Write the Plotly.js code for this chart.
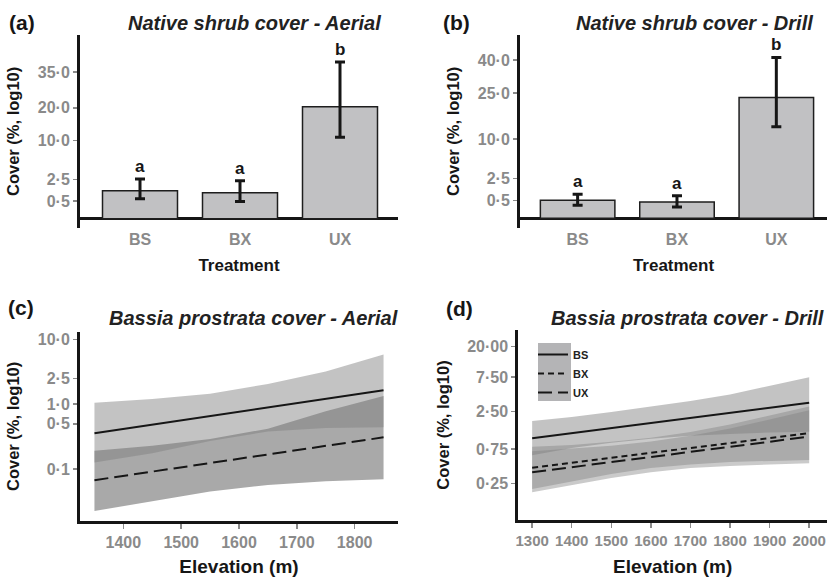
<!DOCTYPE html>
<html>
<head>
<meta charset="utf-8">
<script src="https://cdn.plot.ly/plotly-3.0.1.min.js"></script>
<style>
html,body{margin:0;padding:0;background:#fff;}
#chart{width:827px;height:577px;}
</style>
</head>
<body>
<div id="chart"></div>
<script>
// ---------------- DATA ----------------
const treatments = ['BS', 'BX', 'UX'];

// Panel (a): Native shrub cover - Aerial
const aerialMean  = [1.27, 1.10, 20.4];
const aerialUpper = [2.56, 2.35, 39.9];
const aerialLower = [0.65, 0.49, 10.8];
const aerialLetters = ['a', 'a', 'b'];
const aerialTickVals = [0.5, 2.5, 10, 20, 35];
const aerialTickText = ['0·5', '2·5', '10·0', '20·0', '35·0'];

// Panel (b): Native shrub cover - Drill
const drillMean  = [0.52, 0.42, 23.3];
const drillUpper = [0.92, 0.81, 41.3];
const drillLower = [0.27, 0.20, 13.4];
const drillLetters = ['a', 'a', 'b'];
const drillTickVals = [0.5, 2.5, 10, 25, 40];
const drillTickText = ['0·5', '2·5', '10·0', '25·0', '40·0'];

// Panel (c): Bassia prostrata cover - Aerial
const elevAerial = [1350, 1450, 1550, 1650, 1750, 1850];
const aerialBSFit   = [0.357, 0.483, 0.653, 0.883, 1.19, 1.64];
const aerialBSHigh  = [1.05, 1.20, 1.45, 2.05, 3.20, 5.85];
const aerialBSLow   = [0.126, 0.175, 0.27, 0.38, 0.43, 0.44];
const aerialUXFit   = [0.0675, 0.0913, 0.123, 0.167, 0.226, 0.309];
const aerialUXHigh  = [0.192, 0.23, 0.29, 0.42, 0.78, 1.34];
const aerialUXLow   = [0.0226, 0.032, 0.045, 0.057, 0.065, 0.070];
const cTickVals = [0.1, 0.5, 1, 2.5, 10];
const cTickText = ['0·1', '0·5', '1·0', '2·5', '10·0'];
const cElevTicks = [1400, 1500, 1600, 1700, 1800];

// Panel (d): Bassia prostrata cover - Drill
const elevDrill = [1300, 1400, 1500, 1600, 1700, 1800, 1900, 2000];
const drillBSFit  = [1.06, 1.25, 1.46, 1.72, 2.02, 2.38, 2.80, 3.31];
const drillBSHigh = [1.85, 2.10, 2.45, 2.90, 3.50, 4.30, 5.60, 7.45];
const drillBSLow  = [0.62, 0.78, 0.92, 1.05, 1.15, 1.22, 1.28, 1.31];
const drillBXFit  = [0.416, 0.487, 0.571, 0.669, 0.784, 0.918, 1.07, 1.25];
const drillBXHigh = [0.81, 0.86, 0.95, 1.08, 1.30, 1.65, 2.20, 2.92];
const drillBXLow  = [0.21, 0.27, 0.34, 0.41, 0.46, 0.50, 0.52, 0.53];
const drillUXFit  = [0.359, 0.422, 0.495, 0.582, 0.683, 0.802, 0.942, 1.12];
const drillUXHigh = [0.70, 0.76, 0.84, 0.96, 1.15, 1.45, 1.95, 2.60];
const drillUXLow  = [0.19, 0.24, 0.30, 0.36, 0.41, 0.44, 0.46, 0.48];
const dTickVals = [0.25, 0.75, 2.5, 7.5, 20];
const dTickText = ['0·25', '0·75', '2·50', '7·50', '20·00'];
const dElevTicks = [1300, 1400, 1500, 1600, 1700, 1800, 1900, 2000];

// ---------------- HELPERS ----------------
const W = 827, H = 577;
const px = v => v / W;
const py = v => 1 - v / H;
const FONT = 'Arial, "Liberation Sans", sans-serif';
const TICKGRAY = '#8a8a8a';
const INK = '#161616';
const bold = a => a.map(t => '<b>' + t + '</b>');

function ribbon(x, hi, lo, xa, ya, fill) {
  return {
    x: x.concat(x.slice().reverse()),
    y: hi.concat(lo.slice().reverse()),
    xaxis: xa, yaxis: ya, type: 'scatter', mode: 'lines',
    line: {width: 0}, fill: 'toself', fillcolor: fill,
    hoverinfo: 'skip', showlegend: false
  };
}
function fitLine(x, y, xa, ya, dash, name, legend) {
  return {
    x: x, y: y, xaxis: xa, yaxis: ya, type: 'scatter', mode: 'lines',
    line: {color: INK, width: 2, dash: dash}, name: '<b>' + name + '</b>', showlegend: legend
  };
}
function barTrace(mean, up, lo, xa, ya) {
  const s = mean.map(Math.sqrt);
  return {
    type: 'bar', x: treatments, y: s, xaxis: xa, yaxis: ya, width: 0.75,
    marker: {color: '#c1c1c3', line: {color: '#1e1e1e', width: 1.5}},
    error_y: {type: 'data', symmetric: false,
      array: up.map((u, i) => Math.sqrt(u) - s[i]),
      arrayminus: lo.map((l, i) => s[i] - Math.sqrt(l)),
      color: INK, thickness: 3, width: 5},
    showlegend: false, hoverinfo: 'skip'
  };
}

const traces = [
  barTrace(aerialMean, aerialUpper, aerialLower, 'x', 'y'),
  barTrace(drillMean, drillUpper, drillLower, 'x2', 'y2'),
  ribbon(elevAerial, aerialUXHigh, aerialUXLow, 'x3', 'y3', 'rgba(128,128,128,0.68)'),
  ribbon(elevAerial, aerialBSHigh, aerialBSLow, 'x3', 'y3', 'rgba(128,128,128,0.47)'),
  fitLine(elevAerial, aerialBSFit, 'x3', 'y3', 'solid', 'BS', false),
  fitLine(elevAerial, aerialUXFit, 'x3', 'y3', '14px,6px', 'UX', false),
  ribbon(elevDrill, drillBXHigh, drillBXLow, 'x4', 'y4', 'rgba(128,128,128,0.42)'),
  ribbon(elevDrill, drillUXHigh, drillUXLow, 'x4', 'y4', 'rgba(128,128,128,0.42)'),
  ribbon(elevDrill, drillBSHigh, drillBSLow, 'x4', 'y4', 'rgba(128,128,128,0.47)'),
  fitLine(elevDrill, drillBSFit, 'x4', 'y4', 'solid', 'BS', true),
  fitLine(elevDrill, drillBXFit, 'x4', 'y4', '6px,4px', 'BX', true),
  fitLine(elevDrill, drillUXFit, 'x4', 'y4', '14px,6px', 'UX', true)
];

const tickFont = {family: FONT, size: 16, color: TICKGRAY};
const yTitleFont = {family: FONT, size: 16.5, color: INK};

function yAxisCommon(extra) {
  return Object.assign({
    showline: true, linecolor: INK, linewidth: 3, showgrid: false,
    zeroline: false, ticks: 'outside', ticklen: 4, tickwidth: 1.5,
    tickcolor: TICKGRAY, tickfont: tickFont, automargin: false,
    title: {text: '<b>Cover (%, log10)</b>', font: yTitleFont, standoff: 14}
  }, extra);
}
function xTitle(text, size, standoff) {
  const t = {text: '<b>' + text + '</b>', font: {family: FONT, size: size, color: INK}};
  if (standoff !== undefined) t.standoff = standoff;
  return t;
}

const layout = {
  width: W, height: H,
  margin: {l: 0, r: 0, t: 0, b: 0},
  paper_bgcolor: '#fff', plot_bgcolor: 'rgba(0,0,0,0)',
  showlegend: true,
  legend: {
    x: px(533), y: py(340), xanchor: 'left', yanchor: 'top',
    bgcolor: 'rgba(0,0,0,0)', borderwidth: 0, tracegroupgap: 0,
    itemwidth: 30,
    font: {family: FONT, size: 11, color: '#222'}
  },
  // Panel (a)
  xaxis: {domain: [px(80), px(398)], anchor: 'y', type: 'category',
    range: [-0.6, 2.58], showline: false, showgrid: false, ticks: '',
    tickvals: treatments, ticktext: bold(treatments),
    tickfont: tickFont, automargin: false, title: xTitle('Treatment', 17, 12)},
  yaxis: yAxisCommon({domain: [py(227.7), py(35)], anchor: 'x',
    range: [-0.36, 7.41], tickvals: aerialTickVals.map(Math.sqrt), ticktext: bold(aerialTickText),
    zeroline: true, zerolinecolor: INK, zerolinewidth: 3}),
  // Panel (b)
  xaxis2: {domain: [px(520), 1], anchor: 'y2', type: 'category',
    range: [-0.58, 2.51], showline: false, showgrid: false, ticks: '',
    tickvals: treatments, ticktext: bold(treatments),
    tickfont: tickFont, automargin: false, title: xTitle('Treatment', 17, 12)},
  yaxis2: yAxisCommon({domain: [py(227.7), py(35)], anchor: 'x2',
    range: [-0.375, 7.32], tickvals: drillTickVals.map(Math.sqrt), ticktext: bold(drillTickText),
    zeroline: true, zerolinecolor: INK, zerolinewidth: 3}),
  // Panel (c)
  xaxis3: {domain: [px(80), px(398)], anchor: 'y3', range: [1325, 1875],
    tickvals: cElevTicks, ticktext: bold(cElevTicks),
    showline: true, linecolor: INK, linewidth: 3,
    showgrid: false, zeroline: false, ticks: 'outside', ticklen: 5, tickwidth: 1.5,
    tickcolor: TICKGRAY, tickfont: tickFont, automargin: false,
    title: xTitle('Elevation (m)', 19)},
  yaxis3: yAxisCommon({domain: [py(521), py(331.7)], anchor: 'x3', type: 'log',
    range: [-1.80, 1.118], tickvals: cTickVals, ticktext: bold(cTickText)}),
  // Panel (d)
  xaxis4: {domain: [px(518.3), 1], anchor: 'y4', range: [1265, 2045],
    tickvals: dElevTicks, ticktext: bold(dElevTicks), ticklabeloverflow: 'allow',
    showline: true, linecolor: INK, linewidth: 3,
    showgrid: false, zeroline: false, ticks: 'outside', ticklen: 5, tickwidth: 1.5,
    tickcolor: TICKGRAY, tickfont: {family: FONT, size: 15, color: TICKGRAY}, automargin: false,
    title: xTitle('Elevation (m)', 19)},
  yaxis4: yAxisCommon({domain: [py(520), py(330)], anchor: 'x4', type: 'log',
    range: [-1.107, 1.528], tickvals: dTickVals, ticktext: bold(dTickText)}),
  shapes: [
    {type: 'rect', xref: 'paper', yref: 'paper', x0: px(538), x1: px(571),
     y0: py(401), y1: py(343), fillcolor: '#b4b4b6', line: {width: 0}, layer: 'below'}
  ],
  annotations: []
};

// Significance letters above error bars
function letters(lets, up, xa, ya) {
  lets.forEach((t, i) => {
    layout.annotations.push({x: treatments[i], y: Math.sqrt(up[i]), xref: xa, yref: ya,
      text: '<b>' + t + '</b>', showarrow: false, yanchor: 'bottom', yshift: 1,
      font: {family: FONT, size: 17, color: INK}});
  });
}
letters(aerialLetters, aerialUpper, 'x', 'y');
letters(drillLetters, drillUpper, 'x2', 'y2');

// Panel letters and titles
const tags = [['(a)', 22, 23], ['(b)', 456, 23], ['(c)', 21, 307], ['(d)', 459, 308]];
tags.forEach(t => layout.annotations.push({xref: 'paper', yref: 'paper',
  x: px(t[1]), y: py(t[2]), text: '<b>' + t[0] + '</b>', showarrow: false,
  xanchor: 'center', yanchor: 'middle',
  font: {family: FONT, size: 21, color: INK}}));
const heads = [
  ['Native shrub cover - Aerial', 255, 23], ['Native shrub cover - Drill', 694, 23],
  ['Bassia prostrata cover - Aerial', 254, 318], ['Bassia prostrata cover - Drill', 687, 318]
];
heads.forEach(t => layout.annotations.push({xref: 'paper', yref: 'paper',
  x: px(t[1]), y: py(t[2]), text: '<b><i>' + t[0] + '</i></b>', showarrow: false,
  xanchor: 'center', yanchor: 'middle',
  font: {family: FONT, size: 20, color: '#222'}}));

Plotly.newPlot('chart', traces, layout, {displayModeBar: false, staticPlot: true});
</script>
</body>
</html>
